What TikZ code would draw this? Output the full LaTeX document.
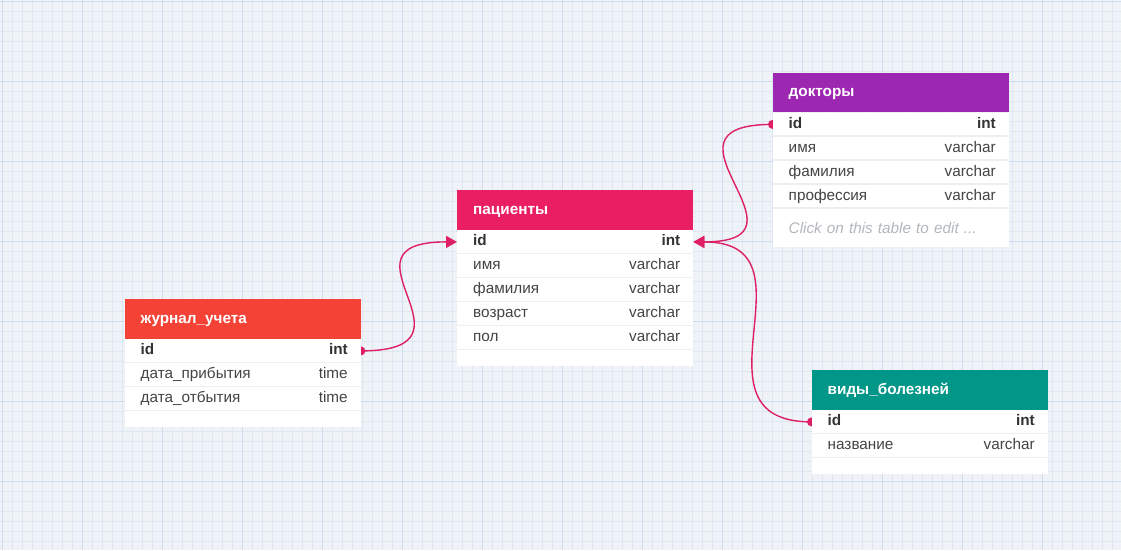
\documentclass[tikz,border=0pt]{standalone}
\usepackage{fontspec}
\setmainfont{Liberation Sans}
\usetikzlibrary{positioning,arrows.meta}

\definecolor{gridbg}{HTML}{EFF3F7}
\definecolor{gridmin}{HTML}{DEE8F3}
\definecolor{gridmaj}{HTML}{CCDCEE}
\definecolor{jred}{HTML}{F44336}
\definecolor{ppink}{HTML}{E91E63}
\definecolor{dpurple}{HTML}{9C27B0}
\definecolor{vteal}{HTML}{009688}
\definecolor{linkc}{HTML}{DF1F65}
\definecolor{sepc}{HTML}{ECEEF0}
\definecolor{fldc}{HTML}{444444}
\definecolor{keyc}{HTML}{333333}
\definecolor{notec}{HTML}{B3B7BC}

\newcommand\tabfont{\fontsize{15.3}{18}\selectfont}

\pgfdeclarelayer{grid}
\pgfdeclarelayer{links}
\pgfsetlayers{grid,links,main}

\begin{document}
\begin{tikzpicture}[x=1pt,y=-1pt,
  head/.style={anchor=north west,minimum height=39.5pt,text width=204pt,
    inner xsep=16pt,inner ysep=0pt,text height=11pt,text depth=2pt,
    text=white,font=\tabfont\bfseries},
  row/.style={below=0pt of #1,minimum width=236pt,minimum height=23.6pt,
    inner sep=0pt,fill=white,
    path picture={\draw[sepc,line width=2pt] (path picture bounding box.south west)
      -- (path picture bounding box.south east);}},
  pad/.style={below=0pt of #1,minimum width=236pt,minimum height=16pt,
    inner sep=0pt,fill=white},
  note/.style={below=0pt of #1,minimum height=38pt,text width=204pt,
    inner xsep=16pt,inner ysep=0pt,fill=white,text=notec,font=\tabfont\itshape},
  fld/.style={anchor=west,xshift=16pt,inner sep=0pt,text height=11pt,
    text depth=3pt,text=fldc,font=\tabfont},
  typ/.style={anchor=east,xshift=-13pt,inner sep=0pt,text height=11pt,
    text depth=3pt,text=fldc,font=\tabfont},
  key/.style={text=keyc,font=\tabfont\bfseries},
  link/.style={linkc,line width=1.4pt,-{Triangle[length=11pt,width=12pt]}}]

\useasboundingbox (0,0) rectangle (1121,550);

% background grid
\begin{pgfonlayer}{grid}
\fill[gridbg] (0,0) rectangle (1121,550);
\foreach \x in {2,12,...,1121} \draw[gridmin,line width=0.8pt] (\x,0) -- (\x,550);
\foreach \y in {1,11,...,550} \draw[gridmin,line width=0.8pt] (0,\y) -- (1121,\y);
\foreach \x in {2,82,...,1121} \draw[gridmaj,line width=0.8pt] (\x,0) -- (\x,550);
\foreach \y in {1,81,...,550} \draw[gridmaj,line width=0.8pt] (0,\y) -- (1121,\y);
\end{pgfonlayer}

% journal
\node[head,fill=jred] (jh) at (124.5,299) {журнал\_учета};
\node[row=jh] (j0) {};
\node[fld,key] (jf0) at (j0.west) {id};
\node[typ,key] (jt0) at (j0.east) {int};
\foreach \f/\t [count=\i, remember=\i as \j (initially 0)] in
    {дата\_прибытия/time,дата\_отбытия/time}{
  \node[row=j\j] (j\i) {};
  \node[fld] (jf\i) at (j\i.west) {\f};
  \node[typ] (jt\i) at (j\i.east) {\t};
}
\node[pad=j2] (jend) {};

% patients
\node[head,fill=ppink] (ph) at (457,190) {пациенты};
\node[row=ph] (p0) {};
\node[fld,key] (pf0) at (p0.west) {id};
\node[typ,key] (pt0) at (p0.east) {int};
\foreach \f/\t [count=\i, remember=\i as \j (initially 0)] in
    {имя/varchar,фамилия/varchar,возраст/varchar,пол/varchar}{
  \node[row=p\j] (p\i) {};
  \node[fld] (pf\i) at (p\i.west) {\f};
  \node[typ] (pt\i) at (p\i.east) {\t};
}
\node[pad=p4] (pend) {};

% doctors
\node[head,fill=dpurple] (dh) at (772.5,72.5) {докторы};
\node[row=dh] (d0) {};
\node[fld,key] (df0) at (d0.west) {id};
\node[typ,key] (dt0) at (d0.east) {int};
\foreach \f/\t [count=\i, remember=\i as \j (initially 0)] in
    {имя/varchar,фамилия/varchar,профессия/varchar}{
  \node[row=d\j] (d\i) {};
  \node[fld] (df\i) at (d\i.west) {\f};
  \node[typ] (dt\i) at (d\i.east) {\t};
}
\node[note=d3] (dnote) {Click on this table to edit ...};

% diseases
\node[head,fill=vteal] (vh) at (811.5,370) {виды\_болезней};
\node[row=vh] (v0) {};
\node[fld,key] (vf0) at (v0.west) {id};
\node[typ,key] (vt0) at (v0.east) {int};
\node[row=v0] (v1) {};
\node[fld] (vf1) at (v1.west) {название};
\node[typ] (vt1) at (v1.east) {varchar};
\node[pad=v1] (vend) {};

% relations
\begin{pgfonlayer}{links}
\draw[link] (j0.east) .. controls +(130,0) and +(-130,0) .. (p0.west);
\draw[link] (d0.west) .. controls +(-130,0) and +(130,0) .. (p0.east);
\draw[link] (v0.west) .. controls +(-130,0) and +(130,0) .. (p0.east);
\fill[linkc] (j0.east) circle (4.5pt);
\fill[linkc] (d0.west) circle (4.5pt);
\fill[linkc] (v0.west) circle (4.5pt);
\end{pgfonlayer}

\end{tikzpicture}
\end{document}
